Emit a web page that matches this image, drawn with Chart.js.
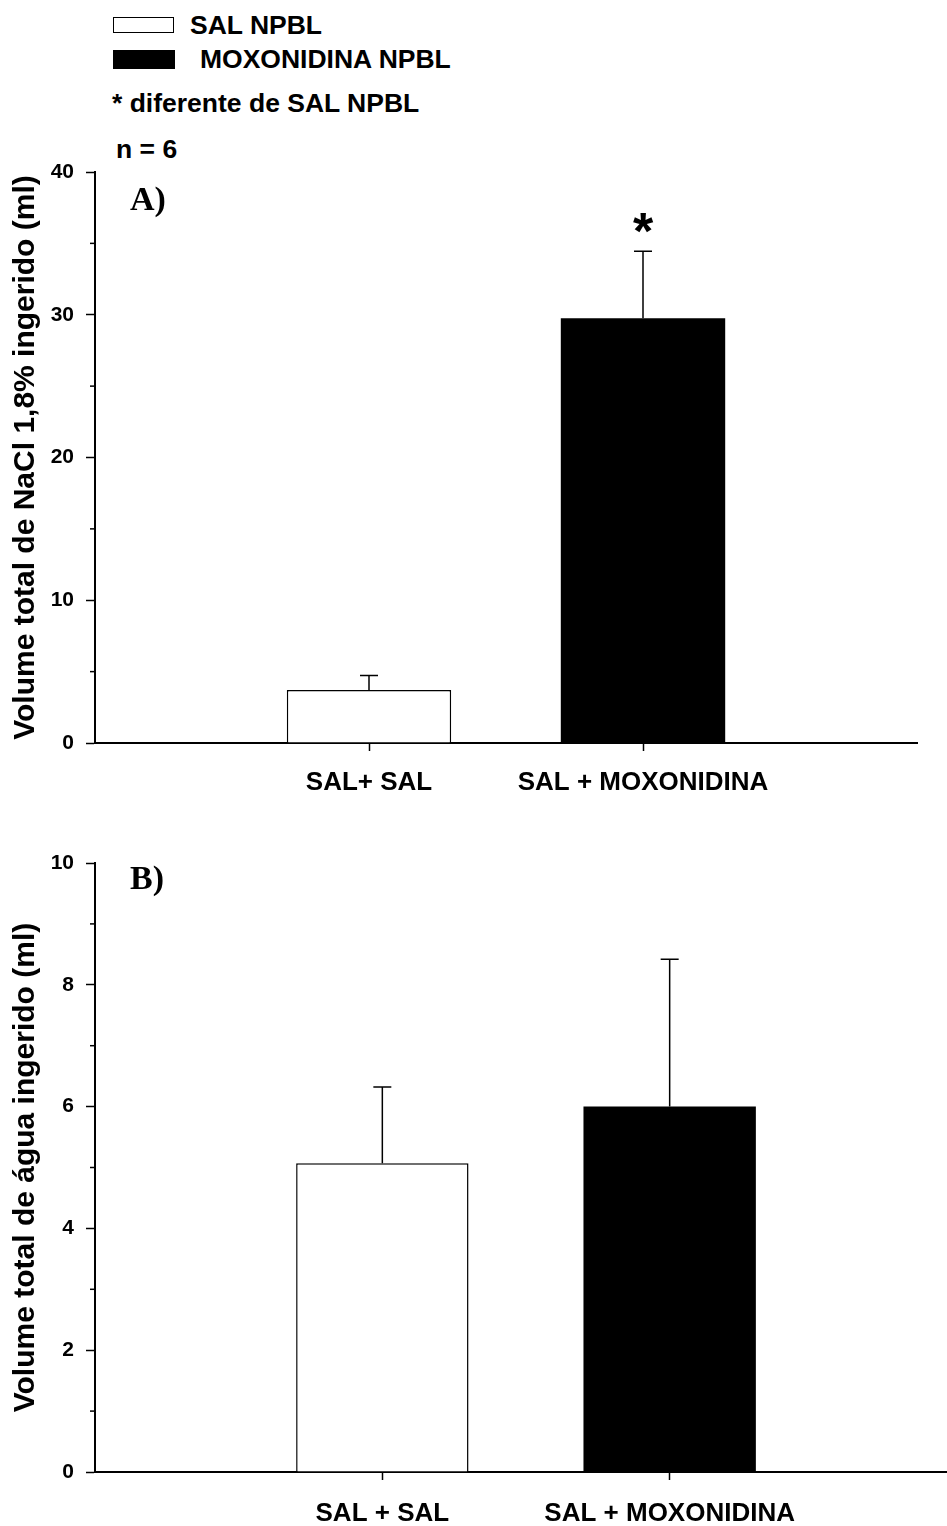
<!DOCTYPE html>
<html>
<head>
<meta charset="utf-8">
<script src="https://cdn.jsdelivr.net/npm/chart.js@4.4.1/dist/chart.umd.min.js"></script>
<style>
  body { margin: 0; background: #fff; overflow: hidden; width: 947px; height: 1526px; position: relative;
         font-family: 'Liberation Sans', Arial, sans-serif; font-weight: bold; color: #000; }
  .txt { position: absolute; font-size: 26.5px; line-height: 26px; white-space: pre; }
  .box { position: absolute; box-sizing: border-box; border: 1.5px solid #000; }
  canvas { position: absolute; left: 0; }
</style>
</head>
<body>
<div class="box" style="left:113px;top:17px;width:61px;height:16px;background:#fff"></div>
<div class="txt" style="left:190px;top:12px">SAL NPBL</div>
<div class="box" style="left:113px;top:50px;width:62px;height:19px;background:#000"></div>
<div class="txt" style="left:200px;top:46px">MOXONIDINA NPBL</div>
<div class="txt" style="left:112px;top:90px">* diferente de SAL NPBL</div>
<div class="txt" style="left:116px;top:136px">n = 6</div>

<canvas id="chartA" width="947" height="800" style="top:0"></canvas>
<canvas id="chartB" width="960" height="726" style="top:800px"></canvas>

<script>
const treatments = ['SAL NPBL', 'MOXONIDINA NPBL'];
const groupsA = ['SAL+ SAL', 'SAL + MOXONIDINA'];
const groupsB = ['SAL + SAL', 'SAL + MOXONIDINA'];

// NaCl 1,8% (ml)
const naclMean = [3.72, 29.76];
const naclSem = [1.0, 4.69];
// agua (ml)
const waterMean = [5.07, 6.0];
const waterSem = [1.25, 2.42];

const FONT = "'Liberation Sans', Arial, sans-serif";

const errorBars = {
  id: 'errorBars',
  afterDatasetsDraw(chart) {
    const ctx = chart.ctx, y = chart.scales.y;
    ctx.save();
    ctx.strokeStyle = '#000';
    ctx.lineWidth = 1.5;
    chart.data.datasets.forEach((ds, di) => {
      const meta = chart.getDatasetMeta(di);
      ds.data.forEach((v, i) => {
        if (v == null) return;
        const bar = meta.data[i];
        const top = y.getPixelForValue(v + ds.errors[i]);
        ctx.beginPath();
        ctx.moveTo(bar.x, bar.y);
        ctx.lineTo(bar.x, top);
        ctx.moveTo(bar.x - 9, top);
        ctx.lineTo(bar.x + 9, top);
        ctx.stroke();
      });
    });
    ctx.restore();
  }
};

const minorTicks = {
  id: 'minorTicks',
  afterDraw(chart, args, opts) {
    const ctx = chart.ctx, y = chart.scales.y;
    ctx.save();
    ctx.strokeStyle = '#000';
    ctx.lineWidth = 1.5;
    y.ticks.forEach(t => {
      if (t.value % opts.major === 0) return;
      const py = y.getPixelForValue(t.value);
      ctx.beginPath();
      ctx.moveTo(y.right - 5, py);
      ctx.lineTo(y.right, py);
      ctx.stroke();
    });
    ctx.restore();
  }
};

const marks = {
  id: 'marks',
  afterDraw(chart, args, opts) {
    const ctx = chart.ctx, area = chart.chartArea;
    ctx.save();
    ctx.fillStyle = '#000';
    ctx.font = "bold 34px 'Liberation Serif', 'Times New Roman', serif";
    ctx.textAlign = 'left';
    ctx.textBaseline = 'alphabetic';
    ctx.fillText(opts.label, area.left + 35, area.top + opts.labelDy);
    if (opts.star) {
      const ds = chart.data.datasets[opts.star.dataset];
      const bar = chart.getDatasetMeta(opts.star.dataset).data[opts.star.index];
      const v = ds.data[opts.star.index] + ds.errors[opts.star.index];
      ctx.font = 'bold 52px ' + FONT;
      ctx.textAlign = 'center';
      ctx.fillText('*', bar.x, chart.scales.y.getPixelForValue(v) - 2);
    }
    ctx.restore();
  }
};

function makeChart(id, groups, mean, sem, yMax, major, minor, title, axisH, labelPad, padding, marksOpts) {
  const labels = ['', ...groups, ''];
  const datasets = treatments.map((t, k) => ({
    label: t,
    data: labels.map((_, i) => i === k + 1 ? mean[k] : null),
    errors: labels.map((_, i) => i === k + 1 ? sem[k] : null),
    backgroundColor: k ? '#000' : '#fff',
    borderColor: '#000',
    borderWidth: k ? 0 : 1.5,
    grouped: false,
    barPercentage: 0.6,
    categoryPercentage: 1
  }));

  return new Chart(document.getElementById(id), {
    type: 'bar',
    data: { labels, datasets },
    plugins: [errorBars, minorTicks, marks],
    options: {
      responsive: false,
      animation: false,
      layout: { padding },
      plugins: {
        legend: { display: false },
        tooltip: { enabled: false },
        minorTicks: { major },
        marks: marksOpts
      },
      scales: {
        x: {
          offset: false,
          grid: {
            offset: false, drawOnChartArea: false, tickLength: 8, tickWidth: 1.5,
            tickColor: c => (c.tick && c.tick.label) ? '#000' : 'rgba(0,0,0,0)'
          },
          border: { color: '#000', width: 2 },
          ticks: { autoSkip: false, maxRotation: 0, color: '#000', padding: labelPad,
                   font: { family: FONT, size: 26, weight: 'bold' } },
          afterFit: s => { s.height = axisH; s.paddingLeft = 0; s.paddingRight = 0; }
        },
        y: {
          min: 0, max: yMax,
          grid: {
            drawOnChartArea: false, tickLength: 9, tickWidth: 1.5,
            tickColor: c => (c.tick && c.tick.value % major) ? 'rgba(0,0,0,0)' : '#000'
          },
          border: { color: '#000', width: 2 },
          ticks: { stepSize: minor, autoSkip: false, padding: 12, color: '#000',
                   font: { family: FONT, size: 21, weight: 'bold' },
                   callback: v => v % major ? '' : v },
          title: { display: true, text: title, color: '#000', padding: { top: 8, bottom: 0 },
                   font: { family: FONT, size: 30, weight: 'bold' } },
          afterFit: s => { s.width = 95; }
        }
      }
    }
  });
}

makeChart('chartA', groupsA, naclMean, naclSem, 40, 10, 5,
  'Volume total de NaCl 1,8% ingerido (ml)', 57, 16,
  { top: 172, right: 30, bottom: 0, left: 0 },
  { label: 'A)', labelDy: 38, star: { dataset: 1, index: 2 } });

// the lower axis runs past the right edge of the figure
makeChart('chartB', groupsB, waterMean, waterSem, 10, 2, 1,
  'Volume total de água ingerido (ml)', 54, 18,
  { top: 63, right: 3, bottom: 0, left: 0 },
  { label: 'B)', labelDy: 26 });
</script>
</body>
</html>
